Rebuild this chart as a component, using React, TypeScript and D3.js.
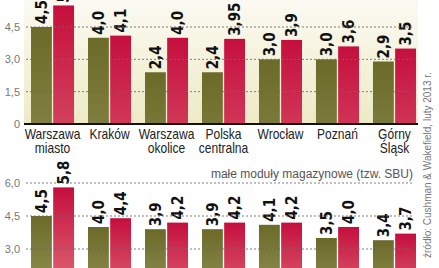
// @ts-nocheck
import * as d3 from "d3";

const width = 439;
const height = 268;

const categories = [
  ["Warszawa", "miasto"],
  ["Kraków"],
  ["Warszawa", "okolice"],
  ["Polska", "centralna"],
  ["Wrocław"],
  ["Poznań"],
  ["Górny", "Śląsk"],
];
const seriesKeys = ["min", "max"];

// top panel (upper chart, baseline visible)
const topMin = [4.5, 4.0, 2.4, 2.4, 3.0, 3.0, 2.9];
const topMax = [5.5, 4.1, 4.0, 3.95, 3.9, 3.6, 3.5];
const topLabelsMin = ["4,5", "4,0", "2,4", "2,4", "3,0", "3,0", "2,9"];
const topLabelsMax = ["5,5", "4,1", "4,0", "3,95", "3,9", "3,6", "3,5"];
const topTicks = [0, 1.5, 3.0, 4.5];

// bottom panel: małe moduły magazynowe
const botMin = [4.5, 4.0, 3.9, 3.9, 4.1, 3.5, 3.4];
const botMax = [5.8, 4.4, 4.2, 4.2, 4.2, 4.0, 3.7];
const botLabelsMin = ["4,5", "4,0", "3,9", "3,9", "4,1", "3,5", "3,4"];
const botLabelsMax = ["5,8", "4,4", "4,2", "4,2", "4,2", "4,0", "3,7"];
const botTicks = [3.0, 4.5, 6.0];

const fmt = (v) => (v === 0 ? "0" : d3.format(".1f")(v).replace(".", ","));

const x = d3
  .scaleBand()
  .domain(d3.range(categories.length))
  .range([24, 423])
  .paddingInner(0.245)
  .paddingOuter(0.123);
const xs = d3.scaleBand().domain(seriesKeys).range([0, x.bandwidth()]).paddingInner(0.06);

const yTop = d3.scaleLinear().domain([0, 4.5]).range([124, 27]);
const yBot = d3.scaleLinear().domain([3, 6]).range([249, 183]);

const gridLeft = 26;
const gridRight = 414;
const valueFont = "'DejaVu Sans Condensed', 'DejaVu Sans', sans-serif";
const textFont = "'Liberation Sans', Arial, sans-serif";

function Bars({ y, mins, maxs, labelsMin, labelsMax }) {
  return (
    <g>
      {categories.map((c, i) => {
        const pairs = [
          [seriesKeys[0], mins[i], labelsMin[i], "url(#gOlive)"],
          [seriesKeys[1], maxs[i], labelsMax[i], "url(#gRed)"],
        ];
        return (
          <g key={i} transform={`translate(${x(i)},0)`}>
            {pairs.map(([k, v, lab, fill]) => {
              const bx = xs(k);
              const top = y(v);
              return (
                <g key={k}>
                  <rect x={bx} y={top} width={xs.bandwidth()} height={height + 80 - top} fill={fill} />
                  <text
                    transform={`translate(${bx + xs.bandwidth() / 2 + 5.5},${top - 3}) rotate(-90)`}
                    fontFamily={valueFont}
                    fontWeight="bold"
                    fontSize={15}
                    fill="#111"
                  >
                    {lab}
                  </text>
                </g>
              );
            })}
          </g>
        );
      })}
    </g>
  );
}

function Grid({ y, ticks }) {
  return (
    <g>
      {ticks.map((t) => (
        <g key={t}>
          {t !== 0 && (
            <line
              x1={gridLeft}
              x2={gridRight}
              y1={y(t)}
              y2={y(t)}
              stroke="#6a6a6a"
              strokeWidth={1}
              strokeDasharray="2,2"
              opacity={0.85}
            />
          )}
          <text
            x={20}
            y={y(t)}
            dy="0.35em"
            textAnchor="end"
            fontFamily={textFont}
            fontSize={11}
            fill="#777"
          >
            {fmt(t)}
          </text>
        </g>
      ))}
    </g>
  );
}

export default function App() {
  return (
    <svg
      width={width}
      height={height}
      style={{ position: "absolute", left: 0, top: 0, background: "#fff" }}
    >
      <defs>
        <linearGradient id="gOlive" x1="0" y1="0" x2="0" y2="1">
          <stop offset="0" stopColor="#6b6a28" />
          <stop offset="0.45" stopColor="#8a8a4c" />
          <stop offset="1" stopColor="#b4b388" />
        </linearGradient>
        <linearGradient id="gRed" x1="0" y1="0" x2="0" y2="1">
          <stop offset="0" stopColor="#c50f3e" />
          <stop offset="0.5" stopColor="#d9566a" />
          <stop offset="1" stopColor="#eaa3a0" />
        </linearGradient>
        <linearGradient id="gBg" x1="0" y1="0" x2="0" y2="1">
          <stop offset="0" stopColor="#fbfaf2" />
          <stop offset="1" stopColor="#eeeac6" />
        </linearGradient>
        <clipPath id="clipTop">
          <rect x={0} y={0} width={width} height={yTop(0)} />
        </clipPath>
      </defs>

      {/* upper chart */}
      <rect x={24} y={0} width={394} height={yTop(0)} fill="url(#gBg)" />
      <g clipPath="url(#clipTop)">
        <Bars y={yTop} mins={topMin} maxs={topMax} labelsMin={topLabelsMin} labelsMax={topLabelsMax} />
      </g>
      <text
        transform={`translate(${x(0) + xs(seriesKeys[1]) + xs.bandwidth() / 2 + 5.5},${yTop(topMax[0]) - 3}) rotate(-90)`}
        fontFamily={valueFont}
        fontWeight="bold"
        fontSize={15}
        fill="#111"
      >
        {topLabelsMax[0]}
      </text>
      <Grid y={yTop} ticks={topTicks} />
      <line x1={24} x2={418} y1={yTop(0)} y2={yTop(0)} stroke="#111" strokeWidth={2} />

      {categories.map((c, i) => (
        <g key={i} transform={`translate(${x(i) + x.bandwidth() / 2},139) scale(0.86,1)`}>
          {c.map((line, j) => (
            <text
              key={j}
              x={0}
              y={j * 14}
              textAnchor="middle"
              fontFamily={textFont}
              fontSize={14}
              fill="#222"
            >
              {line}
            </text>
          ))}
        </g>
      ))}

      {/* lower chart */}
      <text
        x={413}
        y={178}
        textAnchor="end"
        fontFamily={textFont}
        fontSize={12}
        fill="#555"
      >
        małe moduły magazynowe (tzw. SBU)
      </text>
      <g>
        <Bars y={yBot} mins={botMin} maxs={botMax} labelsMin={botLabelsMin} labelsMax={botLabelsMax} />
      </g>
      <Grid y={yBot} ticks={botTicks} />

      <text
        transform="translate(431,258) rotate(-90)"
        fontFamily={textFont}
        fontSize={10}
        fill="#777"
      >
        źródło: Cushman &amp; Wakefield, luty 2013 r.
      </text>
    </svg>
  );
}
